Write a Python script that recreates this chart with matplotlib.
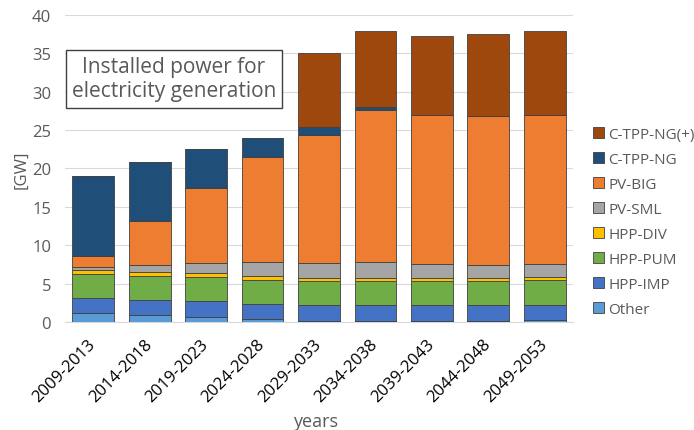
import numpy as np
import matplotlib.pyplot as plt

plt.rcParams['font.family'] = ['Open Sans', 'DejaVu Sans']

periods = ["2009-2013", "2014-2018", "2019-2023", "2024-2028", "2029-2033",
           "2034-2038", "2039-2043", "2044-2048", "2049-2053"]

# GW per source, bottom to top
other    = [1.17, 0.87, 0.65, 0.35, 0.13, 0.13, 0.13, 0.13, 0.26]
hpp_imp  = [1.95, 2.00, 2.04, 2.04, 2.04, 2.04, 2.04, 2.04, 2.00]
hpp_pum  = [3.12, 3.12, 3.16, 3.12, 3.21, 3.21, 3.21, 3.21, 3.17]
hpp_div  = [0.50, 0.48, 0.52, 0.52, 0.35, 0.35, 0.35, 0.35, 0.48]
pv_sml   = [0.40, 1.00, 1.35, 1.82, 1.95, 2.07, 1.78, 1.70, 1.60]
pv_big   = [1.50, 5.68, 9.76, 13.70, 16.70, 19.87, 19.40, 19.42, 19.40]
ctpp_ng  = [10.40, 7.76, 5.07, 2.47, 1.08, 0.30, 0.00, 0.00, 0.00]
ctpp_ngp = [0.00, 0.00, 0.00, 0.00, 9.60, 9.93, 10.40, 10.71, 10.97]

series = [("Other", other, "#5B9BD5"),
          ("HPP-IMP", hpp_imp, "#4472C4"),
          ("HPP-PUM", hpp_pum, "#70AD47"),
          ("HPP-DIV", hpp_div, "#FFC000"),
          ("PV-SML", pv_sml, "#A5A5A5"),
          ("PV-BIG", pv_big, "#ED7D31"),
          ("C-TPP-NG", ctpp_ng, "#1F4E79"),
          ("C-TPP-NG(+)", ctpp_ngp, "#9E480E")]

fig = plt.figure(figsize=(6.94, 4.31), dpi=100)
ax = fig.add_axes([0.0937, 0.2506, 0.732, 0.7123])

x = np.arange(len(periods))
bottom = np.zeros(len(periods))
for name, vals, col in series:
    ax.bar(x, vals, 0.74, bottom=bottom, color=col, edgecolor='#404040',
           linewidth=0.6, label=name, zorder=3)
    bottom += np.array(vals)

ax.set_xlim(-0.5, len(periods) - 0.5)
ax.set_ylim(0, 40)
ax.set_yticks(range(0, 41, 5))
ax.grid(axis='y', color='#D9D9D9', linewidth=0.8, zorder=0)
for s in ['top', 'right', 'left']:
    ax.spines[s].set_visible(False)
ax.spines['bottom'].set_color('#D9D9D9')
ax.tick_params(axis='both', length=0)
ax.tick_params(axis='y', labelsize=12, labelcolor='#595959', pad=10)
ax.tick_params(axis='x', pad=14)
ax.set_xticks(x)
ax.set_xticklabels(periods, rotation=45, ha='right', va='center',
                   rotation_mode='anchor', fontsize=12, color='black')

ax.set_ylabel("[GW]", fontsize=12, color='#595959', labelpad=2)
fig.text(0.454, 0.01, "years", fontsize=13, color='#595959', ha='center')

ax.text(1.43, 31.7, "Installed power for\nelectricity generation", fontsize=15,
        color='#595959', ha='center', va='center', linespacing=1.2, zorder=5,
        bbox=dict(boxstyle='square,pad=0.3', fc='white', ec='#404040', lw=1))

h, l = ax.get_legend_handles_labels()
leg = fig.legend(h[::-1], l[::-1], loc='center left', bbox_to_anchor=(0.835, 0.483),
                 frameon=False, fontsize=11, handlelength=0.7, handleheight=0.7,
                 handletextpad=0.3, labelspacing=0.65, labelcolor='#595959')

fig.savefig("out.png", dpi=100)
